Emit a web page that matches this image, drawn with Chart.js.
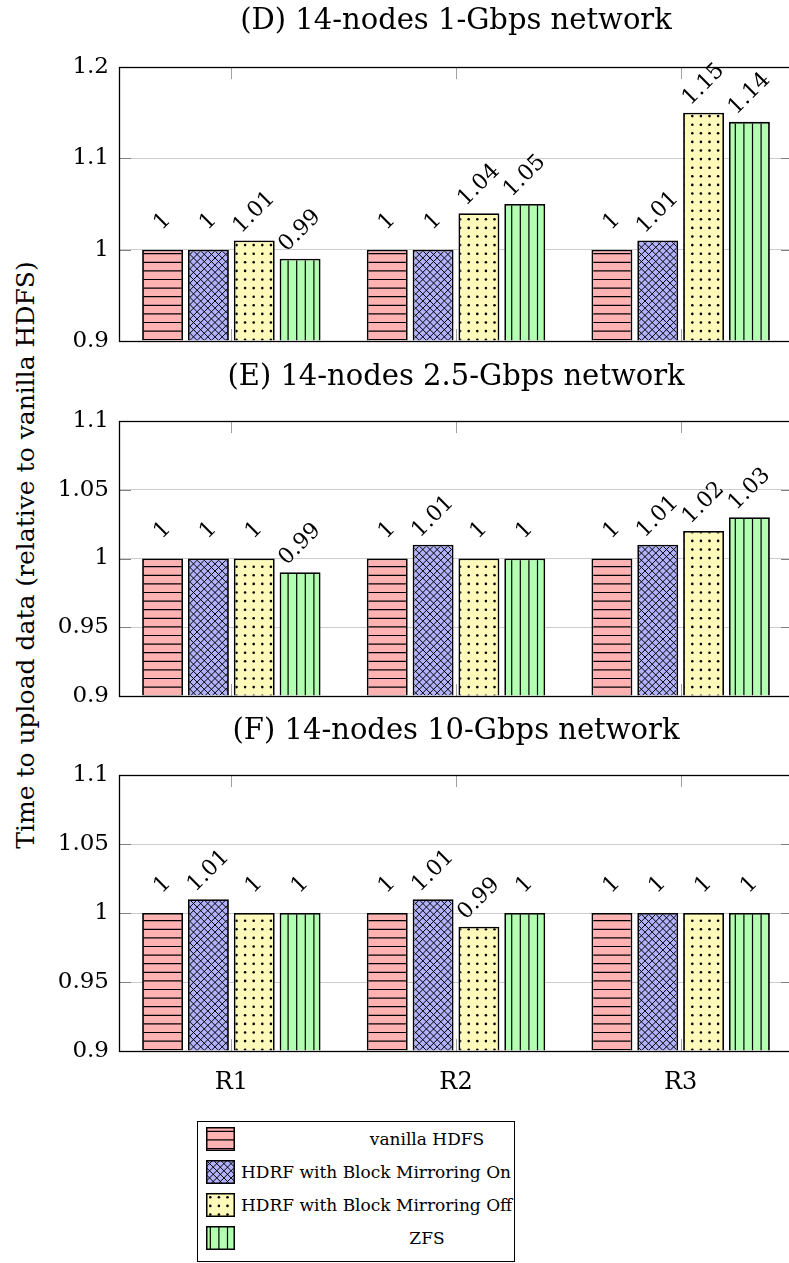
<!DOCTYPE html>
<html>
<head>
<meta charset="utf-8">
<script src="https://cdn.jsdelivr.net/npm/chart.js@4.4.1/dist/chart.umd.min.js"></script>
<style>
  body { margin: 0; width: 789px; height: 1263px; overflow: hidden; position: relative; background: #fff; font-family: "DejaVu Serif", serif; }
  canvas { position: absolute; left: 0; }
  #ylab { position: absolute; left: 25px; top: 555px; transform: translate(-50%, -50%) rotate(-90deg); white-space: nowrap; font-size: 25px; color: #000; }
  #legend { position: absolute; left: 197px; top: 1121px; width: 318px; height: 141px; border: 1px solid #000; box-sizing: border-box; background: #fff; }
  #legend canvas { position: absolute; left: 8px; }
  #legend span { position: absolute; font-size: 17px; white-space: nowrap; line-height: 24px; }
</style>
</head>
<body>
<div id="ylab">Time to upload data (relative to vanilla HDFS)</div>
<canvas id="cD" width="800" height="356" style="top:0px"></canvas>
<canvas id="cE" width="800" height="354" style="top:356px"></canvas>
<canvas id="cF" width="800" height="390" style="top:710px"></canvas>
<div id="legend"></div>
<script>
const categories = ['R1', 'R2', 'R3'];
const seriesLabels = ['vanilla HDFS', 'HDRF with Block Mirroring On', 'HDRF with Block Mirroring Off', 'ZFS'];
const panelTitles = ['(D) 14-nodes 1-Gbps network', '(E) 14-nodes 2.5-Gbps network', '(F) 14-nodes 10-Gbps network'];

// (D) 1 Gbps
const gbps1Vanilla = [1, 1, 1];
const gbps1MirrorOn = [1, 1, 1.01];
const gbps1MirrorOff = [1.01, 1.04, 1.15];
const gbps1Zfs = [0.99, 1.05, 1.14];
// (E) 2.5 Gbps
const gbps25Vanilla = [1, 1, 1];
const gbps25MirrorOn = [1, 1.01, 1.01];
const gbps25MirrorOff = [1, 1, 1.02];
const gbps25Zfs = [0.99, 1, 1.03];
// (F) 10 Gbps
const gbps10Vanilla = [1, 1, 1];
const gbps10MirrorOn = [1.01, 1.01, 1];
const gbps10MirrorOff = [1, 0.99, 1];
const gbps10Zfs = [1, 1, 1];

const ticksD = [0.9, 1, 1.1, 1.2];
const ticksEF = [0.9, 0.95, 1, 1.05, 1.1];

const FONT = '"DejaVu Serif", serif';
const fills = ['rgb(255,178,178)', 'rgb(178,178,255)', 'rgb(255,250,186)', 'rgb(178,255,178)'];
const kinds = ['hlines', 'crosshatch', 'dots', 'vlines'];

function makePattern(ctx, kind, bg) {
  const T = 43;
  const tile = document.createElement('canvas');
  tile.width = T; tile.height = T;
  const c = tile.getContext('2d');
  c.fillStyle = bg;
  c.fillRect(0, 0, T, T);
  c.strokeStyle = '#000';
  c.fillStyle = '#000';
  c.lineWidth = 1.2;
  if (kind === 'hlines' || kind === 'vlines') {
    const p = T / 5;
    for (let k = 0; k < 5; k++) {
      const v = k * p + p / 2;
      c.beginPath();
      if (kind === 'hlines') { c.moveTo(0, v); c.lineTo(T, v); }
      else { c.moveTo(v, 0); c.lineTo(v, T); }
      c.stroke();
    }
  } else if (kind === 'crosshatch') {
    const p = T / 6;
    c.lineWidth = 1;
    for (let k = -7; k <= 13; k++) {
      c.beginPath(); c.moveTo(k * p, 0); c.lineTo(k * p + T, T); c.stroke();
      c.beginPath(); c.moveTo(k * p, 0); c.lineTo(k * p - T, T); c.stroke();
    }
  } else {
    const p = T / 5;
    for (let i = 0; i < 5; i++) for (let j = 0; j < 5; j++) {
      c.beginPath(); c.arc(i * p + p / 2, j * p + p / 2, 1.3, 0, Math.PI * 2); c.fill();
    }
  }
  return ctx.createPattern(tile, 'repeat');
}

function line(ctx, x1, y1, x2, y2) {
  ctx.beginPath(); ctx.moveTo(x1, y1); ctx.lineTo(x2, y2); ctx.stroke();
}

const framePlugin = {
  id: 'frame',
  beforeDatasetsDraw(chart) {
    const { ctx, chartArea: a, scales: { x, y } } = chart;
    ctx.save();
    ctx.lineWidth = 1;
    ctx.strokeStyle = '#a0a0a0';
    x.ticks.forEach((t, i) => {
      const px = Math.round(x.getPixelForTick(i)) + 0.5;
      line(ctx, px, a.top, px, a.top + 12);
      line(ctx, px, a.bottom - 12, px, a.bottom);
    });
    ctx.strokeStyle = '#808080';
    y.ticks.forEach((t, i) => {
      const py = Math.round(y.getPixelForTick(i)) + 0.5;
      line(ctx, a.left, py, a.left + 12, py);
      line(ctx, a.right - 12, py, a.right, py);
    });
    ctx.restore();
  },
  afterDatasetsDraw(chart) {
    const { ctx, chartArea: a } = chart;
    ctx.save();
    ctx.fillStyle = '#000';
    ctx.font = '22px ' + FONT;
    ctx.textAlign = 'center';
    ctx.textBaseline = 'middle';
    chart.data.datasets.forEach((ds, di) => {
      chart.getDatasetMeta(di).data.forEach((el, i) => {
        ctx.save();
        ctx.translate(el.x, el.y - 28);
        ctx.rotate(-Math.PI / 4);
        ctx.fillText(String(ds.data[i]), 0, 0);
        ctx.restore();
      });
    });
    ctx.strokeStyle = '#000';
    ctx.lineWidth = 1.3;
    ctx.strokeRect(Math.round(a.left) + 0.5, Math.round(a.top) + 0.5, Math.round(a.right - a.left), Math.round(a.bottom - a.top));
    ctx.restore();
  }
};

function makePanel(id, title, series, tickVals, titlePad, xHeight, showX) {
  const canvas = document.getElementById(id);
  const ctx = canvas.getContext('2d');
  const yMin = tickVals[0], yMax = tickVals[tickVals.length - 1];
  return new Chart(ctx, {
    type: 'bar',
    data: {
      labels: categories,
      datasets: series.map((vals, k) => ({
        label: seriesLabels[k],
        data: vals,
        backgroundColor: makePattern(ctx, kinds[k], fills[k]),
        borderColor: '#000',
        borderWidth: 1.8,
        base: yMin,
        categoryPercentage: 0.816,
        barPercentage: 0.893
      }))
    },
    options: {
      responsive: false,
      animation: false,
      layout: { padding: { left: 0, right: 7, top: 0, bottom: 0 } },
      plugins: {
        legend: { display: false },
        tooltip: { enabled: false },
        title: {
          display: true, text: title, color: '#000', fullSize: false,
          font: { family: FONT, size: 29, weight: 'normal', lineHeight: 1.45 },
          padding: { top: 0, bottom: titlePad }
        }
      },
      scales: {
        x: {
          grid: { display: false },
          border: { display: false },
          ticks: { display: showX, color: '#000', padding: 9, font: { family: FONT, size: 24 } },
          afterFit(s) { s.height = xHeight; }
        },
        y: {
          min: yMin, max: yMax,
          grid: { color: '#cccccc', drawTicks: true, tickLength: 10, tickColor: 'rgba(0,0,0,0)' },
          border: { display: false },
          ticks: {
            color: '#000', padding: 0,
            font: { family: FONT, size: 23, lineHeight: 1 },
            callback: v => String(+Number(v).toFixed(2))
          },
          afterBuildTicks(s) { s.ticks = tickVals.map(v => ({ value: v })); },
          afterFit(s) { s.width = 119; }
        }
      }
    },
    plugins: [framePlugin]
  });
}

makePanel('cD', panelTitles[0], [gbps1Vanilla, gbps1MirrorOn, gbps1MirrorOff, gbps1Zfs], ticksD, 25, 15, false);
makePanel('cE', panelTitles[1], [gbps25Vanilla, gbps25MirrorOn, gbps25MirrorOff, gbps25Zfs], ticksEF, 23, 14, false);
makePanel('cF', panelTitles[2], [gbps10Vanilla, gbps10MirrorOn, gbps10MirrorOff, gbps10Zfs], ticksEF, 23, 49, true);

// legend
const legend = document.getElementById('legend');
const rowCenters = [17, 50, 83, 116];
seriesLabels.forEach((name, k) => {
  const sw = document.createElement('canvas');
  sw.width = 29; sw.height = 24;
  sw.style.top = (rowCenters[k] - 12) + 'px';
  legend.appendChild(sw);
  const c = sw.getContext('2d');
  c.fillStyle = makePattern(c, kinds[k], fills[k]);
  c.fillRect(0, 0, 29, 24);
  c.strokeStyle = '#000';
  c.lineWidth = 1.5;
  c.strokeRect(0.75, 0.75, 27.5, 22.5);
  const sp = document.createElement('span');
  sp.textContent = name;
  sp.style.top = (rowCenters[k] - 12) + 'px';
  if (k === 0 || k === 3) {
    sp.style.left = '229px';
    sp.style.transform = 'translateX(-50%)';
  } else {
    sp.style.left = '43px';
  }
  legend.appendChild(sp);
});
</script>
</body>
</html>
